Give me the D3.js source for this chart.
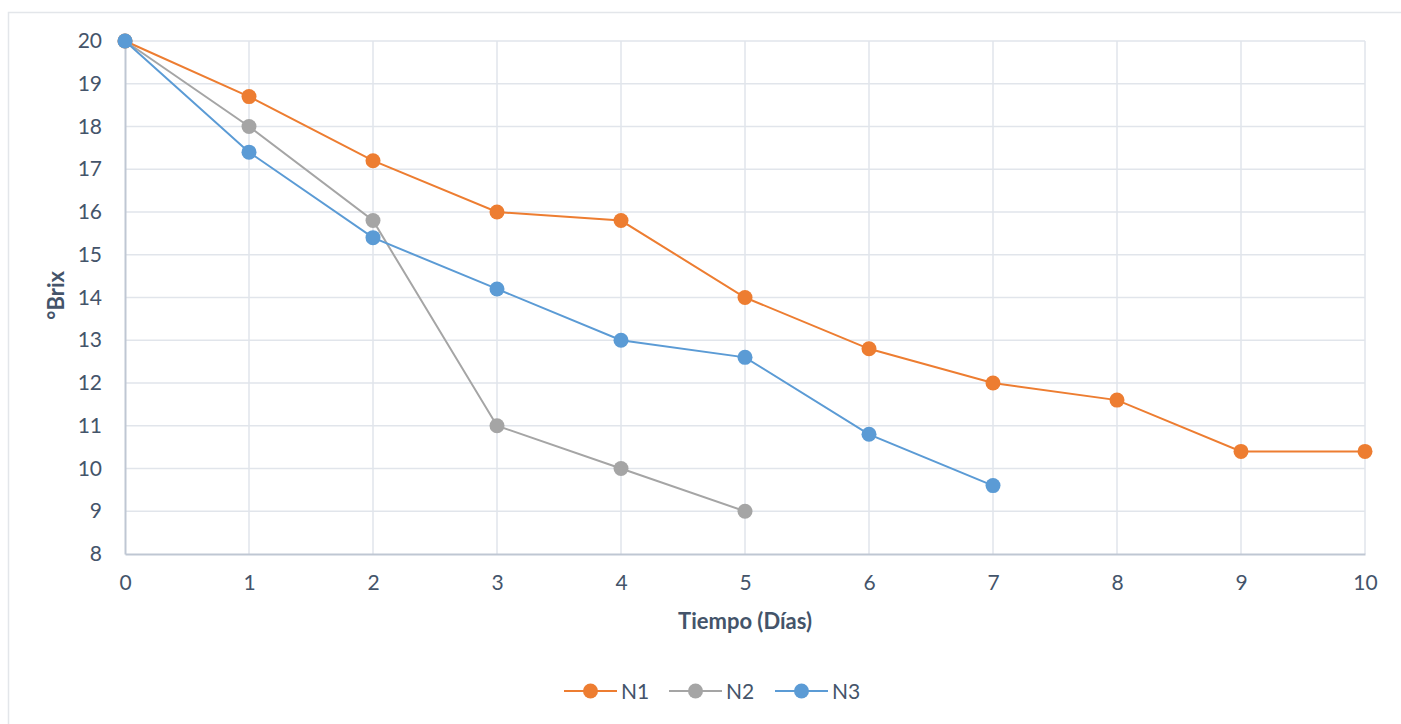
<!DOCTYPE html>
<html>
<head>
<meta charset="utf-8">
<script src="https://cdn.jsdelivr.net/npm/d3@7"></script>
<style>
  html, body { margin: 0; padding: 0; background: #fff; overflow: hidden; }
  svg { display: block; font-family: Lato, "Open Sans", sans-serif; }
</style>
</head>
<body>
<svg id="chart" width="1401" height="724"></svg>
<script>
// Days of fermentation and soluble solids (°Brix) for three samples
const days = [0, 1, 2, 3, 4, 5, 6, 7, 8, 9, 10];
const n1 = [20, 18.7, 17.2, 16, 15.8, 14, 12.8, 12, 11.6, 10.4, 10.4];
const n2 = [20, 18, 15.8, 11, 10, 9];
const n3 = [20, 17.4, 15.4, 14.2, 13, 12.6, 10.8, 9.6];
const seriesNames = ["N1", "N2", "N3"];
const xTicks = [0, 1, 2, 3, 4, 5, 6, 7, 8, 9, 10];
const yTicks = [8, 9, 10, 11, 12, 13, 14, 15, 16, 17, 18, 19, 20];

const colors = { N1: "#ED7D31", N2: "#A5A5A5", N3: "#5B9BD5" };
const textColor = "#44546A";
const gridColor = "#E1E5EB";
const axisColor = "#BFC7D3";
const font = "Lato, 'Open Sans', sans-serif";

const svg = d3.select("#chart");

// outer chart frame
svg.append("rect")
  .attr("x", 8.5).attr("y", 12.5)
  .attr("width", 1420).attr("height", 740)
  .attr("fill", "none").attr("stroke", "#E3E6EA").attr("stroke-width", 1.5);

const x = d3.scaleLinear().domain([0, 10]).range([125, 1365]);
const y = d3.scaleLinear().domain([8, 20]).range([554, 41]);

// grid
const grid = svg.append("g");
grid.selectAll(".hg").data(yTicks.filter(d => d > 8)).join("line")
  .attr("x1", x(0)).attr("x2", x(10))
  .attr("y1", d => y(d)).attr("y2", d => y(d))
  .attr("stroke", gridColor).attr("stroke-width", 1.5);
grid.selectAll(".vg").data(xTicks.filter(d => d > 0)).join("line")
  .attr("x1", d => x(d)).attr("x2", d => x(d))
  .attr("y1", y(8)).attr("y2", y(20))
  .attr("stroke", gridColor).attr("stroke-width", 1.5);

// axes
const xAxis = svg.append("g").attr("transform", `translate(0,${y(8)})`)
  .call(d3.axisBottom(x).tickValues(xTicks).tickSize(0).tickPadding(21).tickFormat(d3.format("d")));
const yAxis = svg.append("g").attr("transform", `translate(${x(0)},0)`)
  .call(d3.axisLeft(y).tickValues(yTicks).tickSize(0).tickPadding(23).tickFormat(d3.format("d")));
[xAxis, yAxis].forEach(a => {
  a.select(".domain").attr("stroke", axisColor).attr("stroke-width", 2);
  a.selectAll("text").attr("fill", textColor).attr("font-size", 21)
    .attr("font-family", font);
});

// axis titles
svg.append("text")
  .attr("x", x(5)).attr("y", 629)
  .attr("text-anchor", "middle")
  .attr("font-size", 22).attr("font-weight", "bold").attr("fill", textColor)
  .text("Tiempo (Días)");
svg.append("text")
  .attr("transform", `translate(64,${y(14.05)}) rotate(-90)`)
  .attr("text-anchor", "middle")
  .attr("font-size", 22).attr("font-weight", "bold").attr("fill", textColor)
  .text("°Brix");

// series
const series = [
  { name: "N1", values: n1 },
  { name: "N2", values: n2 },
  { name: "N3", values: n3 }
];
const line = d3.line().x((d, i) => x(days[i])).y(d => y(d));

series.forEach(s => {
  const g = svg.append("g");
  g.append("path").datum(s.values)
    .attr("d", line).attr("fill", "none")
    .attr("stroke", colors[s.name]).attr("stroke-width", 2);
  g.selectAll("circle").data(s.values).join("circle")
    .attr("cx", (d, i) => x(days[i])).attr("cy", d => y(d))
    .attr("r", 7.5).attr("fill", colors[s.name]);
});

// legend
const legendX = [564, 669, 775];
const legend = svg.append("g");
seriesNames.forEach((name, i) => {
  const lx = legendX[i], ly = 691;
  legend.append("line")
    .attr("x1", lx).attr("x2", lx + 53).attr("y1", ly).attr("y2", ly)
    .attr("stroke", colors[name]).attr("stroke-width", 2);
  legend.append("circle")
    .attr("cx", lx + 26.5).attr("cy", ly).attr("r", 7.5).attr("fill", colors[name]);
  legend.append("text")
    .attr("x", lx + 57).attr("y", ly + 7.5)
    .attr("font-size", 21).attr("fill", textColor)
    .text(name);
});
</script>
</body>
</html>
